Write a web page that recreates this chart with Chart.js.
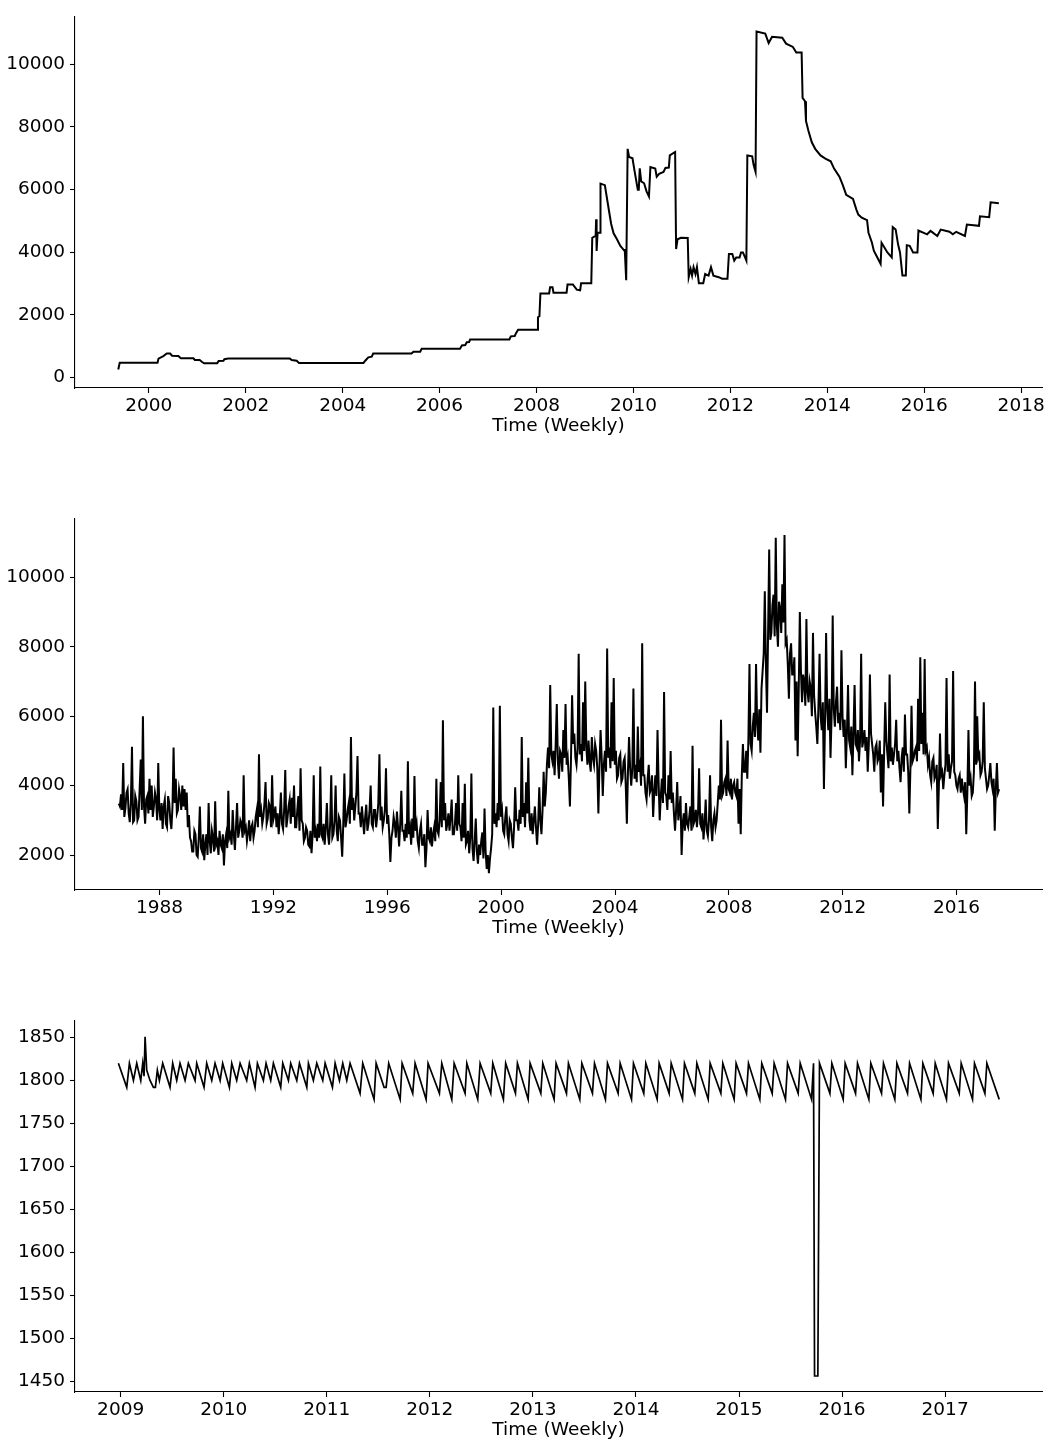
<!DOCTYPE html>
<html>
<head>
<meta charset="utf-8">
<script src="https://cdn.jsdelivr.net/npm/chart.js@4.4.1/dist/chart.umd.min.js"></script>
<style>
  html, body { margin: 0; padding: 0; background: #fff; overflow: hidden; }
  .panel { position: absolute; left: 0; width: 1051px; height: 440px; }
</style>
</head>
<body>
<div class="panel" style="top:0px"><canvas id="c1"></canvas></div>
<div class="panel" style="top:502px"><canvas id="c2"></canvas></div>
<div class="panel" style="top:1004px"><canvas id="c3"></canvas></div>
<script>
// ---- top panel: step-like weekly series (change points) ----
const dates1 = [
  1999.37, 1999.40, 2000.18, 2000.20, 2000.30, 2000.37, 2000.44, 2000.48, 2000.61, 2000.66,
  2000.92, 2000.95, 2001.05, 2001.10, 2001.14, 2001.41, 2001.44, 2001.54, 2001.56, 2001.64,
  2002.91, 2002.95, 2003.05, 2003.10, 2004.43, 2004.47, 2004.53, 2004.60, 2004.63, 2005.42,
  2005.46, 2005.60, 2005.63, 2006.42, 2006.46, 2006.53, 2006.56, 2006.61, 2006.63, 2007.44,
  2007.47, 2007.55, 2007.58, 2007.62, 2008.01, 2008.03, 2008.06, 2008.08, 2008.26, 2008.28,
  2008.33, 2008.35, 2008.62, 2008.64, 2008.75, 2008.83, 2008.90, 2008.92, 2009.13, 2009.15,
  2009.22, 2009.23, 2009.24, 2009.26, 2009.31, 2009.32, 2009.41, 2009.49, 2009.54, 2009.59,
  2009.66, 2009.73, 2009.81, 2009.82, 2009.85, 2009.88, 2009.91, 2009.98, 2010.02, 2010.05,
  2010.09, 2010.11, 2010.13, 2010.16, 2010.22, 2010.27, 2010.32, 2010.35, 2010.45, 2010.48,
  2010.53, 2010.62, 2010.66, 2010.73, 2010.75, 2010.86, 2010.88, 2010.91, 2010.98, 2011.12,
  2011.14, 2011.18, 2011.21, 2011.24, 2011.28, 2011.31, 2011.35, 2011.44, 2011.48, 2011.55,
  2011.60, 2011.65, 2011.76, 2011.83, 2011.94, 2011.97, 2012.04, 2012.08, 2012.12, 2012.19,
  2012.22, 2012.26, 2012.33, 2012.35, 2012.45, 2012.48, 2012.52, 2012.54, 2012.72, 2012.79,
  2012.86, 2013.07, 2013.15, 2013.29, 2013.36, 2013.47, 2013.49, 2013.54, 2013.56, 2013.61,
  2013.68, 2013.75, 2013.86, 2013.96, 2014.07, 2014.14, 2014.25, 2014.32, 2014.39, 2014.53,
  2014.60, 2014.64, 2014.71, 2014.82, 2014.85, 2014.92, 2014.96, 2015.03, 2015.10, 2015.12,
  2015.24, 2015.33, 2015.35, 2015.41, 2015.46, 2015.50, 2015.55, 2015.62, 2015.64, 2015.70,
  2015.77, 2015.86, 2015.88, 2016.06, 2016.13, 2016.27, 2016.34, 2016.52, 2016.59, 2016.66,
  2016.84, 2016.88, 2017.13, 2017.15, 2017.34, 2017.37, 2017.54
];
const values1 = [
  250, 470, 470, 600, 680, 760, 760, 690, 680, 610,
  610, 555, 555, 490, 450, 450, 520, 530, 580, 600,
  600, 555, 530, 460, 460, 540, 640, 660, 760, 760,
  820, 820, 910, 910, 1020, 1030, 1120, 1130, 1210, 1210,
  1310, 1320, 1420, 1520, 1520, 1920, 1950, 2680, 2680, 2880,
  2880, 2700, 2700, 2970, 2970, 2800, 2780, 3010, 3010, 4460,
  4520, 5050, 4040, 4620, 4620, 6190, 6140, 5370, 4900, 4600,
  4410, 4200, 4050, 4100, 3100, 7300, 7040, 7000, 6620, 6350,
  5990, 5990, 6680, 6260, 6200, 5940, 5780, 6720, 6670, 6410,
  6500, 6560, 6690, 6700, 7090, 7200, 4100, 4410, 4460, 4450,
  3200, 3460, 3250, 3520, 3300, 3520, 3010, 3010, 3300, 3250,
  3520, 3250, 3200, 3150, 3150, 3940, 3940, 3730, 3830, 3830,
  3990, 3990, 3730, 7090, 7060, 6780, 6560, 11050, 10980, 10680,
  10880, 10850, 10660, 10555, 10380, 10380, 8930, 8820, 8190, 7880,
  7510, 7300, 7090, 6985, 6900, 6670, 6410, 6140, 5830, 5700,
  5360, 5200, 5100, 5020, 4620, 4310, 4045, 3835, 3625, 4300,
  3990, 3830, 4800, 4725, 4250, 3990, 3256, 3256, 4220, 4200,
  3990, 3990, 4690, 4570, 4680, 4515, 4720, 4650, 4570, 4650,
  4515, 4880, 4840, 5146, 5115, 5590, 5560
];
const xTicks1 = [2000, 2002, 2004, 2006, 2008, 2010, 2012, 2014, 2016, 2018];
const yTicks1 = [0, 2000, 4000, 6000, 8000, 10000];

// ---- middle panel: one row per year starting 1986.57, 26 readings per row ----
const start2 = 1986.57;
const perYear2 = 26;
const values2 = [
  [3480, 3400, 3750, 3300, 4650, 3100, 3350, 3800, 3900, 3200, 2950, 3500, 5120, 2950, 3000, 3700, 3550, 3000, 3100, 3900, 4750, 3300, 6000, 3400, 2900, 3600],
  [3700, 3200, 4200, 3300, 4000, 3100, 3400, 3800, 3600, 3000, 4650, 3300, 3000, 3500, 2750, 3400, 3600, 2900, 2800, 3700, 3500, 3000, 2750, 3400, 5100, 3500],
  [4200, 3200, 3300, 3900, 3700, 3300, 4000, 3400, 3900, 3300, 3800, 2800, 3150, 2500, 2400, 2100, 2100, 2700, 2600, 2000, 1950, 2500, 3400, 2200, 2100, 2600],
  [1850, 2300, 2600, 2000, 3500, 2400, 2050, 2700, 2500, 2100, 3550, 2300, 2400, 2000, 2700, 2300, 2200, 2600, 1700, 2400, 2600, 2200, 3850, 2500, 2600, 2300],
  [3300, 2600, 2150, 2800, 3500, 2500, 2700, 3000, 2900, 2500, 4300, 2700, 2800, 2400, 2650, 3000, 2400, 2800, 2900, 2500, 2700, 3100, 3300, 2800, 4900, 3100],
  [3300, 2900, 3100, 3500, 4100, 2900, 3050, 3500, 3400, 2800, 4300, 3000, 3150, 3400, 2800, 3200, 2600, 3100, 3800, 2900, 2750, 3300, 4450, 2800, 3050, 3400],
  [3600, 2900, 3650, 3100, 4000, 2800, 2800, 3300, 3700, 2700, 4500, 3000, 2900, 2400, 2500, 2800, 2700, 2300, 2250, 2700, 2050, 2600, 4300, 2500, 2700, 2400],
  [2900, 2500, 4550, 2600, 2500, 2900, 2300, 2800, 3500, 2600, 2300, 2900, 4300, 2500, 2600, 3000, 4000, 2700, 2400, 3100, 3000, 2500, 1950, 2900, 4350, 2800],
  [3000, 3300, 3500, 2900, 5400, 3300, 3650, 3000, 3400, 3800, 4850, 3200, 3200, 2800, 3400, 3000, 2600, 3100, 3450, 2700, 2900, 3300, 4000, 2900, 2800, 3300],
  [3300, 2800, 3100, 3500, 4900, 3000, 3400, 2800, 3000, 3300, 4500, 2900, 3150, 2600, 1800, 2500, 2700, 3100, 2900, 2500, 3250, 2800, 2250, 2900, 3850, 2700],
  [2700, 2400, 2900, 2500, 4700, 2600, 2800, 2300, 3050, 2500, 4280, 2700, 2900, 2400, 2200, 2700, 2900, 2300, 2300, 2600, 1650, 2200, 3300, 2500, 2400, 2800],
  [2250, 2600, 2800, 2400, 4200, 2700, 2600, 3000, 4100, 2800, 5880, 3000, 3500, 2700, 2900, 3200, 2700, 3100, 3600, 2600, 2600, 2900, 3500, 2700, 4300, 2900],
  [2800, 2400, 3500, 2500, 4050, 2300, 2400, 2700, 2050, 2500, 4350, 2200, 1830, 2400, 3050, 2100, 1750, 2300, 2000, 2400, 2650, 1900, 3340, 2100, 1600, 2000],
  [1480, 1900, 2200, 2600, 6250, 2900, 3200, 2800, 3500, 3000, 6300, 3100, 3300, 2700, 2600, 3100, 3400, 2600, 2400, 3000, 2900, 2500, 2200, 2800, 3950, 3000],
  [3000, 2700, 3300, 2900, 5400, 3100, 3500, 2800, 4100, 3200, 4800, 3000, 2700, 3200, 2600, 3000, 3400, 2800, 2300, 2900, 3950, 3000, 2600, 3300, 4400, 3400],
  [3800, 4600, 5100, 4500, 6900, 4900, 4700, 5000, 4300, 5200, 6350, 4700, 4200, 5000, 4900, 4400, 5600, 4800, 6350, 4600, 4800, 4200, 3400, 4800, 6600, 5200],
  [5500, 4800, 4600, 5100, 7800, 4900, 5200, 4700, 6400, 5000, 7000, 5100, 4600, 5300, 4700, 4400, 5400, 4800, 4600, 5200, 5000, 4500, 3200, 4600, 5600, 4800],
  [3700, 4600, 5000, 4400, 7950, 4800, 5100, 4500, 6400, 4700, 7100, 4600, 5000, 4200, 4300, 4800, 4900, 4100, 4200, 4700, 4800, 4000, 2900, 4400, 5400, 4500],
  [4000, 4500, 6800, 4200, 4600, 4100, 5700, 4400, 4600, 4000, 8100, 4300, 4300, 3800, 3600, 4200, 4600, 3800, 3900, 4300, 3100, 3800, 4300, 3700, 5600, 4100],
  [3000, 3700, 4200, 3500, 6700, 3800, 3700, 3300, 4300, 3600, 5000, 3500, 3800, 3200, 2700, 3300, 4100, 3000, 3300, 3700, 2000, 2900, 3200, 2700, 3500, 2900],
  [2800, 3100, 3400, 2700, 5150, 2900, 3000, 3300, 2800, 3200, 4500, 2900, 2800, 3200, 2450, 2900, 3600, 2700, 2550, 3000, 4300, 2800, 2400, 3000, 3200, 2800],
  [3000, 3500, 4000, 3600, 5900, 3700, 3800, 4100, 4200, 3700, 5300, 3900, 3800, 4200, 3600, 4000, 4100, 3800, 3700, 4200, 2900, 3900, 2600, 4300, 5200, 4400],
  [4400, 5000, 4200, 5300, 7500, 5200, 5000, 5700, 6100, 5400, 7500, 5800, 5300, 6200, 4950, 6800, 7300, 7800, 9600, 7500, 6100, 8400, 10800, 8200, 8400, 9200],
  [9500, 8300, 11140, 8600, 8000, 9300, 9100, 8400, 9800, 8700, 11220, 8100, 8200, 7500, 6500, 7800, 8100, 7200, 7200, 7700, 5300, 7000, 4850, 6800, 9000, 7300],
  [6400, 7200, 7000, 6300, 8800, 6700, 6400, 7000, 6800, 6000, 8400, 6600, 6100, 5700, 5200, 6300, 7800, 6000, 5600, 6400, 3900, 5900, 8400, 6200, 5600, 6500],
  [4800, 6000, 8900, 6200, 5700, 6400, 6850, 5800, 6100, 5600, 7900, 6000, 5400, 5900, 4500, 5500, 6900, 5300, 5100, 5700, 4300, 5500, 6900, 5200, 5100, 5600],
  [4700, 5300, 7800, 5100, 5300, 5600, 5000, 5400, 4400, 5200, 7200, 5500, 5200, 4900, 4400, 5100, 5200, 4700, 4800, 5300, 3800, 4900, 3400, 5000, 6400, 5300],
  [4900, 4500, 7200, 4700, 5100, 4600, 4900, 5200, 5900, 4700, 5000, 4500, 4100, 4800, 5100, 4400, 6050, 4900, 4900, 4400, 3200, 4500, 6300, 4700, 4800, 5000],
  [5100, 4700, 6500, 5000, 7700, 5200, 6100, 4900, 7650, 5000, 5100, 4600, 4800, 4300, 4100, 4700, 4800, 4200, 4300, 4600, 2750, 4000, 5500, 4300, 4400, 3900],
  [4300, 4600, 7100, 4400, 4900, 4200, 4500, 4700, 7300, 4400, 4300, 4000, 3900, 4200, 4300, 3800, 4200, 3900, 3700, 4100, 2600, 3800, 5600, 4000, 4200, 3700],
  [3800, 4400, 7000, 4600, 6000, 4800, 4900, 4300, 4400, 4700, 6400, 4500, 4200, 3900, 4000, 4300, 4650, 4100, 3900, 4200, 2700, 3900, 4650, 3800, 3900]
];
const xTicks2 = [1988, 1992, 1996, 2000, 2004, 2008, 2012, 2016];
const yTicks2 = [2000, 4000, 6000, 8000, 10000];

// ---- bottom panel: sawtooth turning points ----
const dates3 = [
  2008.978, 2009.059, 2009.085, 2009.124, 2009.156, 2009.195, 2009.214, 2009.227, 2009.237, 2009.253,
  2009.285, 2009.318, 2009.337, 2009.356, 2009.376, 2009.408, 2009.479, 2009.505, 2009.544, 2009.576,
  2009.625, 2009.657, 2009.722, 2009.738, 2009.809, 2009.835, 2009.884, 2009.916, 2009.965, 2009.990,
  2010.055, 2010.078, 2010.126, 2010.159, 2010.223, 2010.249, 2010.304, 2010.327, 2010.385, 2010.411,
  2010.456, 2010.482, 2010.553, 2010.573, 2010.628, 2010.650, 2010.709, 2010.735, 2010.806, 2010.822,
  2010.870, 2010.903, 2010.961, 2010.984, 2011.055, 2011.081, 2011.123, 2011.155, 2011.194, 2011.226,
  2011.323, 2011.349, 2011.459, 2011.479, 2011.556, 2011.576, 2011.601, 2011.712, 2011.731, 2011.834,
  2011.857, 2011.964, 2011.983, 2012.093, 2012.116, 2012.213, 2012.236, 2012.342, 2012.359, 2012.465,
  2012.488, 2012.591, 2012.611, 2012.714, 2012.736, 2012.831, 2012.850, 2012.954, 2012.973, 2013.077,
  2013.096, 2013.206, 2013.225, 2013.326, 2013.345, 2013.455, 2013.475, 2013.578, 2013.598, 2013.704,
  2013.724, 2013.827, 2013.847, 2013.957, 2013.976, 2014.076, 2014.096, 2014.206, 2014.225, 2014.322,
  2014.342, 2014.452, 2014.471, 2014.571, 2014.591, 2014.701, 2014.720, 2014.824, 2014.843, 2014.953,
  2014.972, 2015.073, 2015.092, 2015.202, 2015.221, 2015.322, 2015.341, 2015.451, 2015.471, 2015.574,
  2015.594, 2015.704, 2015.723, 2015.733, 2015.765, 2015.781, 2015.882, 2015.901, 2016.011, 2016.030,
  2016.131, 2016.150, 2016.260, 2016.279, 2016.383, 2016.402, 2016.512, 2016.532, 2016.635, 2016.655,
  2016.765, 2016.784, 2016.884, 2016.904, 2017.013, 2017.033, 2017.137, 2017.156, 2017.266, 2017.285,
  2017.386, 2017.405, 2017.525
];
const values3 = [
  1820, 1792, 1820, 1800, 1820, 1800, 1820, 1805, 1851, 1812,
  1800, 1792, 1792, 1812, 1800, 1820, 1792, 1820, 1800, 1820,
  1800, 1820, 1800, 1820, 1792, 1820, 1800, 1820, 1800, 1820,
  1792, 1820, 1800, 1820, 1800, 1820, 1792, 1820, 1800, 1820,
  1800, 1820, 1792, 1820, 1800, 1820, 1800, 1820, 1792, 1820,
  1800, 1820, 1800, 1820, 1792, 1820, 1800, 1820, 1800, 1820,
  1785, 1820, 1778, 1820, 1792, 1792, 1820, 1778, 1820, 1785,
  1820, 1778, 1820, 1785, 1820, 1778, 1820, 1785, 1820, 1778,
  1820, 1785, 1820, 1778, 1820, 1785, 1820, 1778, 1820, 1785,
  1820, 1778, 1820, 1785, 1820, 1778, 1820, 1785, 1820, 1778,
  1820, 1785, 1820, 1778, 1820, 1785, 1820, 1778, 1820, 1785,
  1820, 1778, 1820, 1785, 1820, 1778, 1820, 1785, 1820, 1778,
  1820, 1785, 1820, 1778, 1820, 1785, 1820, 1778, 1820, 1785,
  1820, 1778, 1820, 1456, 1456, 1820, 1785, 1820, 1778, 1820,
  1785, 1820, 1778, 1820, 1785, 1820, 1778, 1820, 1785, 1820,
  1778, 1820, 1785, 1820, 1778, 1820, 1785, 1820, 1778, 1820,
  1785, 1820, 1778
];
const xTicks3 = [2009, 2010, 2011, 2012, 2013, 2014, 2015, 2016, 2017];
const yTicks3 = [1450, 1500, 1550, 1600, 1650, 1700, 1750, 1800, 1850];

Chart.defaults.font.family = 'DejaVu Sans';
Chart.defaults.font.size = 18.5;
Chart.defaults.color = '#000';

function drawPanel(id, points, xr, yr, xTicks, yTicks, lineWidth) {
  const spine = { display: true, color: '#000', width: 1.1 };
  const tickMarks = { drawOnChartArea: false, drawTicks: true, tickLength: 5, tickWidth: 1.1, color: '#000' };
  return new Chart(document.getElementById(id), {
    type: 'line',
    data: {
      datasets: [{
        data: points,
        borderColor: '#000',
        borderWidth: lineWidth,
        pointRadius: 0,
        tension: 0,
        fill: false
      }]
    },
    options: {
      responsive: true,
      maintainAspectRatio: false,
      animation: false,
      layout: { padding: { top: 11, right: 9, left: 0, bottom: 0 } },
      plugins: { legend: { display: false }, tooltip: { enabled: false } },
      scales: {
        x: {
          type: 'linear', min: xr[0], max: xr[1],
          border: spine, grid: tickMarks,
          ticks: { padding: 2, maxRotation: 0, autoSkip: false, callback: v => String(v) },
          title: { display: true, text: 'Time (Weekly)', padding: { top: 0, bottom: 3 } },
          afterBuildTicks: s => { s.ticks = xTicks.map(v => ({ value: v })); },
          afterFit: s => { s.height = 52; }
        },
        y: {
          type: 'linear', min: yr[0], max: yr[1],
          border: spine, grid: tickMarks,
          ticks: { padding: 5, callback: v => String(v) },
          afterBuildTicks: s => { s.ticks = yTicks.map(v => ({ value: v })); },
          afterFit: s => { s.width = 75; }
        }
      }
    }
  });
}

const points1 = dates1.map((d, i) => ({ x: d, y: values1[i] }));
const points2 = [];
values2.forEach((row, k) => {
  row.forEach((v, j) => points2.push({ x: start2 + k + j / perYear2, y: v }));
});
const points3 = dates3.map((d, i) => ({ x: d, y: values3[i] }));

drawPanel('c1', points1, [1998.477, 2018.43], [-340, 11540], xTicks1, yTicks1, 2);
drawPanel('c2', points2, [1985.03, 2019.0], [993, 11707], xTicks2, yTicks2, 2);
drawPanel('c3', points3, [2008.557, 2017.94], [1437.4, 1870.3], xTicks3, yTicks3, 1.7);
</script>
</body>
</html>
